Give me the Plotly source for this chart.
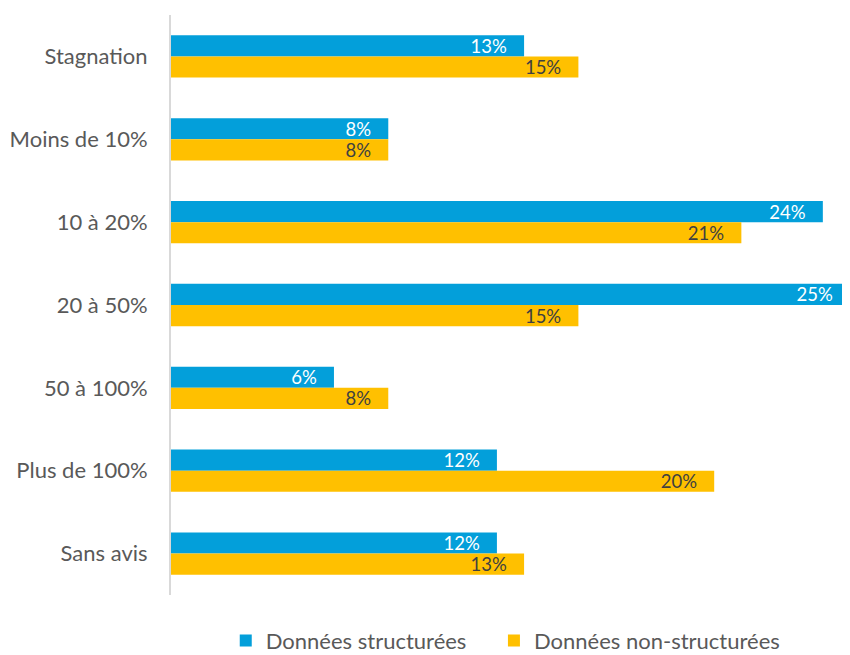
import plotly.graph_objects as go

categories = ["Stagnation", "Moins de 10%", "10 à 20%", "20 à 50%", "50 à 100%", "Plus de 100%", "Sans avis"]
structurees = [13, 8, 24, 25, 6, 12, 12]
non_structurees = [15, 8, 21, 15, 8, 20, 13]
series_names = ["Données structurées", "Données non-structurées"]

FONT = "Lato, 'Noto Sans', sans-serif"
PAD = "\u00a0" * 3  # inner padding after the value label, like the original
LEG_GAP = "\u00a0" * 4  # extra spacing between legend entries

fig = go.Figure()
fig.add_trace(go.Bar(
    y=categories, x=structurees, orientation="h", name=series_names[0] + LEG_GAP,
    marker=dict(color="#039FDA", line=dict(width=0)),
    text=[f"{v}%{PAD}" for v in structurees], textposition="inside", insidetextanchor="end",
    textfont=dict(color="white", size=18.5, family=FONT), constraintext="none",
    hoverinfo="skip",
))
fig.add_trace(go.Bar(
    y=categories, x=non_structurees, orientation="h", name=series_names[1],
    marker=dict(color="#FFC000", line=dict(width=0)),
    text=[f"{v}%{PAD}" for v in non_structurees], textposition="inside", insidetextanchor="end",
    textfont=dict(color="#404040", size=18.5, family=FONT), constraintext="none",
    hoverinfo="skip",
))

# page body has an 8px default margin: compensate so the figure fills the 850x655 window
fig.update_layout(
    width=842, height=647,
    margin=dict(l=163, r=0, t=7, b=60, autoexpand=False),
    barmode="group", bargap=0.49, bargroupgap=0,
    plot_bgcolor="white", paper_bgcolor="white",
    font=dict(family=FONT, color="#595959", size=22),
    showlegend=True,
    legend=dict(orientation="h", x=0.493, xanchor="center", y=-0.079, yanchor="middle",
                font=dict(size=22, color="#595959"), itemwidth=30, traceorder="normal"),
    xaxis=dict(range=[0, 25], visible=False, fixedrange=True),
    yaxis=dict(autorange="reversed", showline=True, linecolor="#D9D9D9", linewidth=2,
               ticks="", ticklabelstandoff=17, showgrid=False, zeroline=False, automargin=False,
               tickfont=dict(size=22, color="#595959")),
)

fig.write_html("out.html")
